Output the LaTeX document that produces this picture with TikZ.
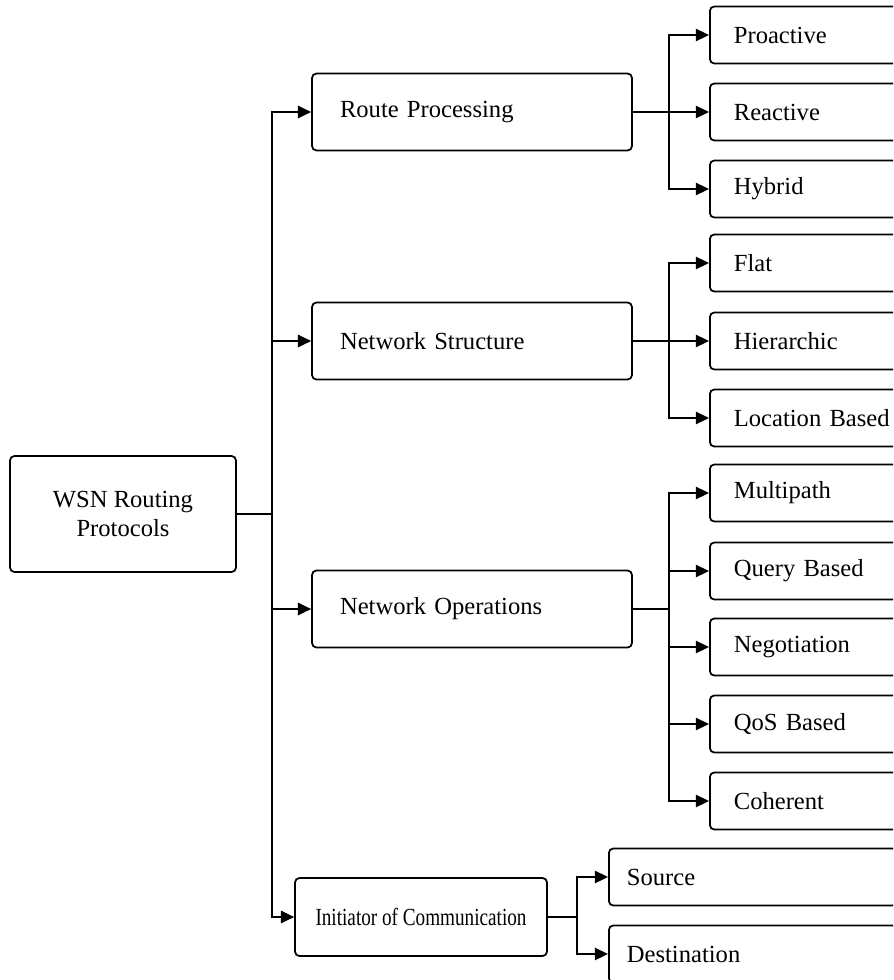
\documentclass[tikz,border=0pt]{standalone}
\usepackage{fontspec}
\setmainfont{Liberation Serif}
\newfontfamily\narrowserif[FakeStretch=0.78]{Liberation Serif}
\usepackage{tikz}
\usetikzlibrary{arrows.meta}
\usetikzlibrary{positioning}
\tikzset{tbox/.style = {draw, line width=1pt, rounded corners=2.5pt,
                        font=\fontsize{14}{17}\selectfont}}
\tikzset{mid/.style = {tbox, align=left, text width=5.28cm, inner xsep=0.56cm,
                       minimum height=1.54cm}}
\tikzset{leaf/.style = {tbox, align=left, anchor=west, text width=5.04cm,
                        inner xsep=0.48cm, minimum height=1.14cm}}
\tikzset{arr/.style = {line width=1pt, -{Triangle[length=7.5pt, width=7pt]}}}
\tikzset{wire/.style = {line width=1pt}}

\begin{document}
\begin{tikzpicture}[x=0.02cm, y=-0.02cm]
      \useasboundingbox (0, 0) rectangle (893, 980);
      \clip (0, 0) rectangle (893, 980);

      \node [tbox, align=center, minimum width=4.52cm, minimum height=2.32cm]
        (root) at (123, 514) {WSN Routing\\Protocols};

      \node [mid] (rp) at (472, 112) {Route Processing};
      \node [mid] (ns) at (472, 341) {Network Structure};
      \node [mid] (no) at (472, 609) {Network Operations};
      \node [tbox, align=center, minimum width=5.04cm, minimum height=1.56cm,
             font=\fontsize{14}{17}\narrowserif]
        (ini) at (421, 917) {Initiator of Communication};

      \foreach \name/\y/\txt in {pro/35/Proactive, rea/112/Reactive, hyb/189/Hybrid,
                                 flat/263/Flat, hie/341/Hierarchic, loc/418/Location Based,
                                 mul/493/Multipath, que/571/Query Based, neg/647/Negotiation,
                                 qos/724/QoS Based, coh/801/Coherent}{
        \node [leaf] (\name) at (709, \y) {\txt};
      }
      \node [leaf, inner xsep=0.36cm] (src) at (608, 877) {Source};
      \node [leaf, inner xsep=0.36cm] (dst) at (608, 954) {Destination};

      % trunk
      \coordinate (trunk) at (272, 514);
      \draw [wire] (root.east) -- (trunk);
      \foreach \m in {rp, ns, no, ini}
        \draw [arr] (trunk) |- (\m);

      % forks
      \coordinate (rpfork) at (669, 112);
      \coordinate (nsfork) at (669, 341);
      \coordinate (nofork) at (669, 609);
      \coordinate (inifork) at (577, 917);

      \draw [wire] (rp.east) -- (rpfork);
      \foreach \l in {pro, rea, hyb}
        \draw [arr] (rpfork) |- (\l);

      \draw [wire] (ns.east) -- (nsfork);
      \foreach \l in {flat, hie, loc}
        \draw [arr] (nsfork) |- (\l);

      \draw [wire] (no.east) -- (nofork);
      \foreach \l in {mul, que, neg, qos, coh}
        \draw [arr] (nofork) |- (\l);

      \draw [wire] (ini.east) -- (inifork);
      \foreach \l in {src, dst}
        \draw [arr] (inifork) |- (\l);
\end{tikzpicture}
\end{document}
